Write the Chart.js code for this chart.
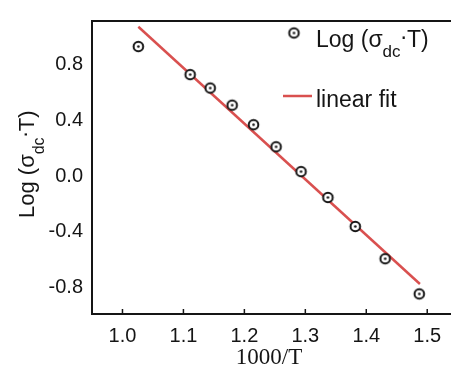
<!DOCTYPE html>
<html>
<head>
<meta charset="utf-8">
<script src="https://cdn.jsdelivr.net/npm/chart.js@4/dist/chart.umd.min.js"></script>
<style>
    html, body { margin: 0; padding: 0; background: #fff; overflow: hidden; }
    #wrap { position: relative; width: 460px; height: 376px; }
</style>
</head>
<body>
<div id="wrap"><canvas id="arrhenius"></canvas></div>
<script>
// values
const invTemp = [1.026, 1.111, 1.144, 1.180, 1.215, 1.252, 1.293, 1.337, 1.382, 1.431, 1.487];
const logSigmaT = [0.928, 0.727, 0.631, 0.508, 0.368, 0.210, 0.032, -0.153, -0.361, -0.592, -0.844];
const fitX = [1.026, 1.488];
const fitY = [1.07, -0.773];
const xTicks = [1.0, 1.1, 1.2, 1.3, 1.4, 1.5];
const yTicks = [-0.8, -0.4, 0.0, 0.4, 0.8];

const RED = "#d9504f";
const INK = "#151515";
const SANS = "'Liberation Sans', Arial, sans-serif";

// open circle with a dot in the middle
const makeMarker = () => {
    const c = document.createElement("canvas");
    c.width = 15;
    c.height = 15;
    const g = c.getContext("2d");
    g.fillStyle = "#fff";
    g.strokeStyle = INK;
    g.lineWidth = 2;
    g.beginPath();
    g.arc(7.5, 7.5, 4.8, 0, Math.PI * 2);
    g.fill();
    g.stroke();
    g.fillStyle = INK;
    g.beginPath();
    g.arc(7.5, 7.5, 1.3, 0, Math.PI * 2);
    g.fill();
    return c;
};
const marker = makeMarker();

// draws "Log (σdc.T)" starting at x, baseline y
const drawSigmaLabel = (g, x, y, size) => {
    g.textAlign = "left";
    g.textBaseline = "alphabetic";
    g.font = `${size}px ${SANS}`;
    g.fillText("Log (σ", x, y);
    x += g.measureText("Log (σ").width;
    const sub = Math.round(size * 0.74);
    g.font = `${sub}px ${SANS}`;
    g.fillText("dc", x, y + size * 0.45);
    x += g.measureText("dc").width;
    g.font = `${size}px ${SANS}`;
    g.fillText(".", x, y - size * 0.33);
    x += g.measureText(".").width;
    g.fillText("T)", x, y);
    return x + g.measureText("T)").width;
};

const framePlugin = {
    id: "frame",
    beforeDatasetsDraw(chart) {
        const { ctx, chartArea: a, scales } = chart;
        ctx.save();
        ctx.strokeStyle = INK;
        ctx.lineWidth = 2;
        ctx.strokeRect(a.left, a.top, a.right - a.left + 4, a.bottom - a.top);
        // inward tick marks on the bottom axis
        ctx.lineWidth = 1.5;
        xTicks.forEach((v) => {
            const px = scales.x.getPixelForValue(v);
            ctx.beginPath();
            ctx.moveTo(px, a.bottom);
            ctx.lineTo(px, a.bottom - 5);
            ctx.stroke();
        });
        ctx.restore();
    },
    afterDraw(chart) {
        const { ctx } = chart;
        ctx.save();
        ctx.fillStyle = INK;

        // legend
        ctx.drawImage(marker, 294 - 7.5, 33 - 7.5);
        drawSigmaLabel(ctx, 316, 47, 23);
        ctx.strokeStyle = RED;
        ctx.lineWidth = 2.5;
        ctx.beginPath();
        ctx.moveTo(283, 96);
        ctx.lineTo(312, 96);
        ctx.stroke();
        ctx.font = `23px ${SANS}`;
        ctx.fillText("linear fit", 316, 107);

        // x title
        ctx.font = "23px 'Liberation Serif', 'Times New Roman', serif";
        ctx.textAlign = "center";
        ctx.textBaseline = "middle";
        ctx.fillText("1000/T", 269, 358);

        // y title, rotated
        ctx.translate(34, 163);
        ctx.rotate(-Math.PI / 2);
        drawSigmaLabel(ctx, -55, 0, 22);
        ctx.restore();
    },
};

const chart = new Chart(document.getElementById("arrhenius"), {
    type: "scatter",
    data: {
        datasets: [
            {
                label: "linear fit",
                data: fitX.map((x, i) => ({ x, y: fitY[i] })),
                showLine: true,
                borderColor: RED,
                borderWidth: 2.5,
                pointRadius: 0,
                order: 2,
            },
            {
                label: "Log (σdc.T)",
                data: invTemp.map((x, i) => ({ x, y: logSigmaT[i] })),
                pointStyle: marker,
                pointRadius: 5,
                order: 1,
            },
        ],
    },
    options: {
        animation: false,
        responsive: true,
        maintainAspectRatio: false,
        layout: { padding: { top: 8, right: 9, left: 0, bottom: 0 } },
        scales: {
            x: {
                type: "linear",
                min: 0.95,
                max: 1.539,
                grid: { display: false, drawTicks: false },
                border: { display: false },
                afterBuildTicks: (s) => { s.ticks = xTicks.map((value) => ({ value })); },
                afterFit: (s) => { s.height = 62; },
                ticks: {
                    padding: 10,
                    color: INK,
                    font: { family: SANS, size: 20 },
                    callback: (v) => v.toFixed(1),
                },
            },
            y: {
                type: "linear",
                min: -0.988,
                max: 1.111,
                grid: { display: false, drawTicks: false },
                border: { display: false },
                afterBuildTicks: (s) => { s.ticks = yTicks.map((value) => ({ value })); },
                afterFit: (s) => { s.width = 92; },
                ticks: {
                    padding: 9,
                    color: INK,
                    font: { family: SANS, size: 20 },
                    callback: (v) => v.toFixed(1),
                },
            },
        },
        plugins: {
            legend: { display: false },
            tooltip: { enabled: false },
        },
    },
    plugins: [framePlugin],
});
</script>
</body>
</html>
